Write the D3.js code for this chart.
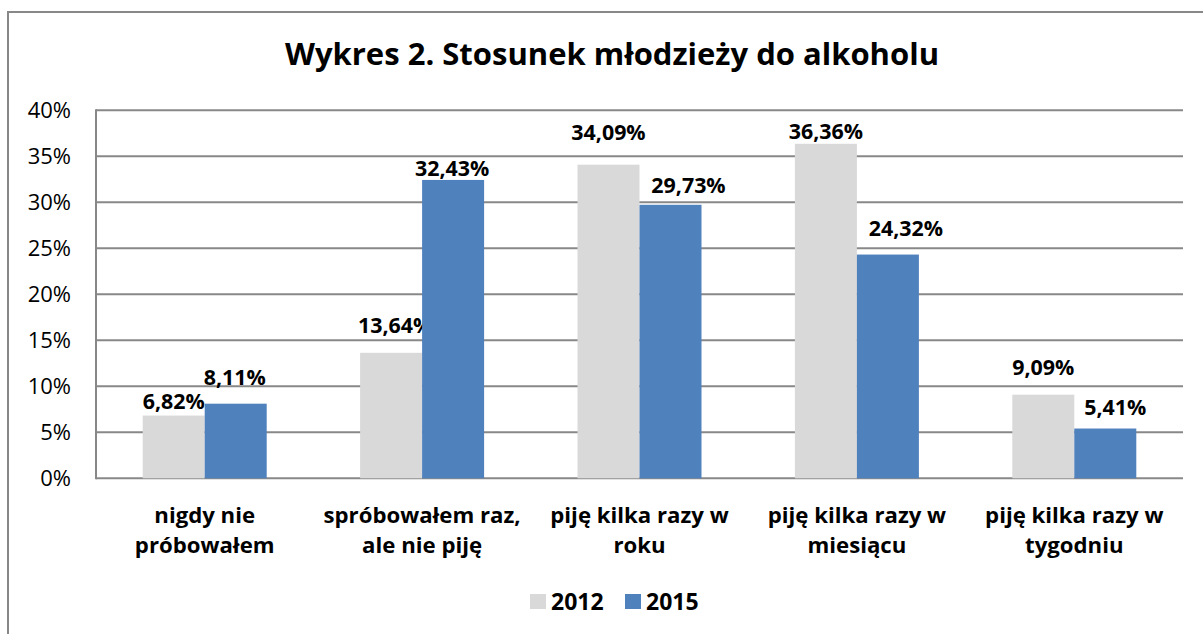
<!DOCTYPE html>
<html><head><meta charset="utf-8">
<script src="https://cdn.jsdelivr.net/npm/d3@7"></script>
<style>
body{margin:0;background:#fff;}
svg{display:block;font-family:"Open Sans", sans-serif;}
</style></head>
<body>
<svg id="chart" width="1203" height="634"></svg>
<script>
const title = "Wykres 2. Stosunek młodzieży do alkoholu";
const categories = [
  ["nigdy nie", "próbowałem"],
  ["spróbowałem raz,", "ale nie piję"],
  ["piję kilka razy w", "roku"],
  ["piję kilka razy w", "miesiącu"],
  ["piję kilka razy w", "tygodniu"]
];
const seriesNames = ["2012", "2015"];
const values2012 = [6.82, 13.64, 34.09, 36.36, 9.09];
const values2015 = [8.11, 32.43, 29.73, 24.32, 5.41];
const yTicks = [0, 5, 10, 15, 20, 25, 30, 35, 40];

// ---- layout / style ----
const colors = ["#d9d9d9", "#4f81bd"];
// manual data-label placement from the original (px: [dx, gap above bar top])
const labelNudge = [
  [[0, 7], [4, 20], [0, 25], [0, 5], [0, 20]],
  [[-1, 19], [-1, 4], [18, 12], [18, 19], [10, 14]]
];

const svg = d3.select("#chart");
const W = 1203, H = 634;
const plot = {left: 96, right: 1183, top: 110.3, bottom: 478.3};

svg.append("rect").attr("x", 8).attr("y", 12).attr("width", W + 20).attr("height", H + 20)
  .attr("fill", "#fff").attr("stroke", "#888").attr("stroke-width", 2);

svg.append("text").attr("x", 612).attr("y", 65).attr("text-anchor", "middle")
  .attr("font-size", 31).attr("font-weight", "bold").attr("fill", "#000").text(title);

const x0 = d3.scaleBand().domain(d3.range(categories.length)).range([plot.left, plot.right]).paddingInner(0).paddingOuter(0);
const groupW = x0.bandwidth() * (124 / 217.4);
const x1 = d3.scaleBand().domain([0, 1]).range([0, groupW]);
const y = d3.scaleLinear().domain([0, 40]).range([plot.bottom, plot.top]);

// gridlines
svg.append("g").selectAll("line").data(yTicks).join("line")
  .attr("x1", plot.left).attr("x2", plot.right)
  .attr("y1", d => y(d)).attr("y2", d => y(d))
  .attr("stroke", "#888").attr("stroke-width", 2);
// left axis line
svg.append("line").attr("x1", plot.left).attr("x2", plot.left).attr("y1", plot.top - 1).attr("y2", plot.bottom + 1)
  .attr("stroke", "#888").attr("stroke-width", 2);

// y tick labels
svg.append("g").selectAll("text").data(yTicks).join("text")
  .attr("x", 71).attr("y", d => y(d) + 8).attr("text-anchor", "end")
  .attr("font-size", 22).attr("fill", "#000").text(d => d + "%");

const allSeries = [values2012, values2015];
const fmt = v => v.toFixed(2).replace(".", ",") + "%";

allSeries.forEach((vals, s) => {
  const g = svg.append("g");
  g.selectAll("rect").data(vals).join("rect")
    .attr("x", (d, i) => x0(i) + (x0.bandwidth() - groupW) / 2 + x1(s))
    .attr("y", d => y(d)).attr("width", x1.bandwidth()).attr("height", d => plot.bottom - y(d))
    .attr("fill", colors[s]);
  g.selectAll("text").data(vals).join("text")
    .attr("x", (d, i) => x0(i) + (x0.bandwidth() - groupW) / 2 + x1(s) + x1.bandwidth() / 2 + labelNudge[s][i][0])
    .attr("y", (d, i) => y(d) - labelNudge[s][i][1]).attr("text-anchor", "middle")
    .attr("font-size", 21.4).attr("font-weight", "bold").attr("fill", "#000").text(d => fmt(d));
});

// category labels
const cg = svg.append("g");
categories.forEach((lines, i) => {
  const t = cg.append("text").attr("text-anchor", "middle").attr("font-size", 22.2).attr("font-weight", "bold").attr("fill", "#000");
  lines.forEach((l, k) => t.append("tspan").attr("x", x0(i) + x0.bandwidth() / 2).attr("y", 523 + k * 30).text(l));
});

// legend
const legendX = [530, 625];
seriesNames.forEach((n, s) => {
  svg.append("rect").attr("x", legendX[s]).attr("y", 594).attr("width", 16).attr("height", 15).attr("fill", colors[s]);
  svg.append("text").attr("x", legendX[s] + 21).attr("y", 610).attr("font-size", 23).attr("font-weight", "bold").attr("fill", "#000").text(n);
});
</script>
</body></html>
